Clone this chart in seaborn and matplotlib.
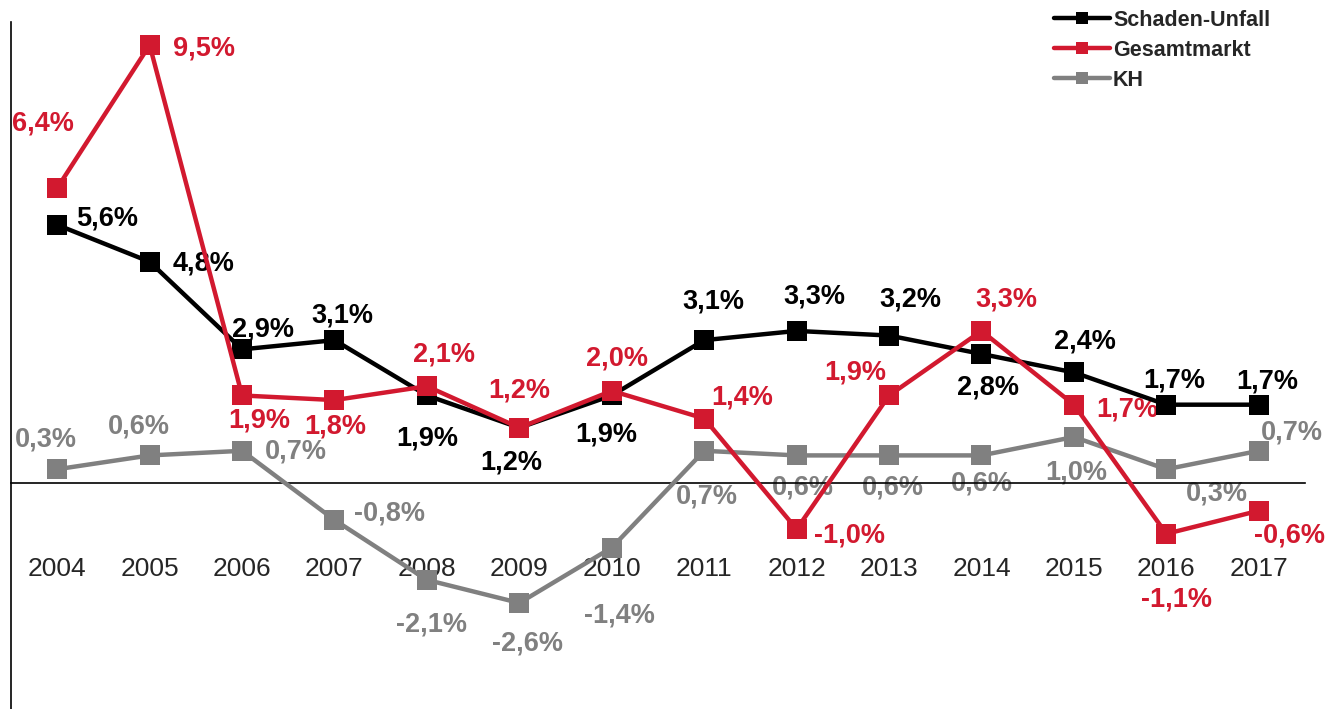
import numpy as np
import pandas as pd
import matplotlib.pyplot as plt
import seaborn as sb

years = ['2004', '2005', '2006', '2007', '2008', '2009', '2010',
         '2011', '2012', '2013', '2014', '2015', '2016', '2017']
schaden_unfall = [5.6, 4.8, 2.9, 3.1, 1.9, 1.2, 1.9, 3.1, 3.3, 3.2, 2.8, 2.4, 1.7, 1.7]
gesamtmarkt = [6.4, 9.5, 1.9, 1.8, 2.1, 1.2, 2.0, 1.4, -1.0, 1.9, 3.3, 1.7, -1.1, -0.6]
kh = [0.3, 0.6, 0.7, -0.8, -2.1, -2.6, -1.4, 0.7, 0.6, 0.6, 0.6, 1.0, 0.3, 0.7]

series_names = ['Schaden-Unfall', 'Gesamtmarkt', 'KH']
colors = {'Schaden-Unfall': '#000000', 'Gesamtmarkt': '#D2192F', 'KH': '#808080'}

# label offsets from each marker, in pixels (x right, y up)
label_offsets = {
    'Schaden-Unfall': [(50, 6), (54, -2), (21, 20), (8, 25), (0, -43), (-8, -35), (-6, -39),
                       (9, 39), (18, 34), (21, 36), (7, -34), (11, 31), (8, 24), (8, 23)],
    'Gesamtmarkt': [(-14, 64), (54, -3), (17, -25), (1, -26), (17, 32), (0, 37), (5, 32),
                    (38, 21), (53, -6), (-34, 23), (25, 31), (53, -5), (10, -66), (31, -25)],
    'KH': [(-11, 30), (-11, 29), (54, -1), (55, 6), (5, -45), (8, -41), (8, -68),
           (3, -46), (6, -32), (4, -32), (0, -28), (2, -36), (51, -24), (33, 18)],
}

df = pd.DataFrame({'year': years, 'idx': np.arange(len(years)),
                   'Schaden-Unfall': schaden_unfall, 'Gesamtmarkt': gesamtmarkt, 'KH': kh})

sb.set_style('white')
plt.rcParams['font.family'] = ['Liberation Sans', 'DejaVu Sans']

fig = plt.figure(figsize=(13.26, 7.09), dpi=100)
ax = fig.add_axes([11 / 1326, 0.0, 1294 / 1326, 687 / 709])

# draw gray first, red last (red sits on top)
z = {'KH': 3, 'Schaden-Unfall': 4, 'Gesamtmarkt': 5}
for name in ['KH', 'Schaden-Unfall', 'Gesamtmarkt']:
    sb.lineplot(data=df, x='idx', y=name, ax=ax, color=colors[name], linewidth=3.2,
                marker='s', markersize=15, markeredgewidth=0, label=name, zorder=z[name])
    for i, v in enumerate(df[name]):
        txt = f'{v:.1f}'.replace('.', ',') + '%'
        ax.annotate(txt, (i, v), xytext=label_offsets[name][i], textcoords='offset pixels',
                    ha='center', va='center', fontsize=19.5, fontweight='bold',
                    color=colors[name], zorder=2)

ax.set_xlim(-0.5, 13.5)
ax.set_ylim(-4.9, 10)
ax.spines['top'].set_visible(False)
ax.spines['right'].set_visible(False)
ax.spines['bottom'].set_position(('data', 0))
for s in ['left', 'bottom']:
    ax.spines[s].set_color('black')
    ax.spines[s].set_linewidth(1.2)
ax.set_xticks(df['idx'])
ax.set_xticklabels(years)
ax.set_yticks([])
ax.set_xlabel('')
ax.set_ylabel('')
ax.tick_params(axis='x', length=0, pad=53, labelsize=19)

handles, labels = ax.get_legend_handles_labels()
order = [labels.index(n) for n in series_names]
leg = ax.legend([handles[i] for i in order], series_names, loc='upper right',
                bbox_to_anchor=(0.988, 1.046), frameon=False,
                prop={'weight': 'bold', 'size': 15.5}, handlelength=2.6,
                handletextpad=0.15, labelspacing=0.42)
for h in leg.legend_handles:
    h.set_markersize(9)

fig.savefig('out.png', dpi=100)
